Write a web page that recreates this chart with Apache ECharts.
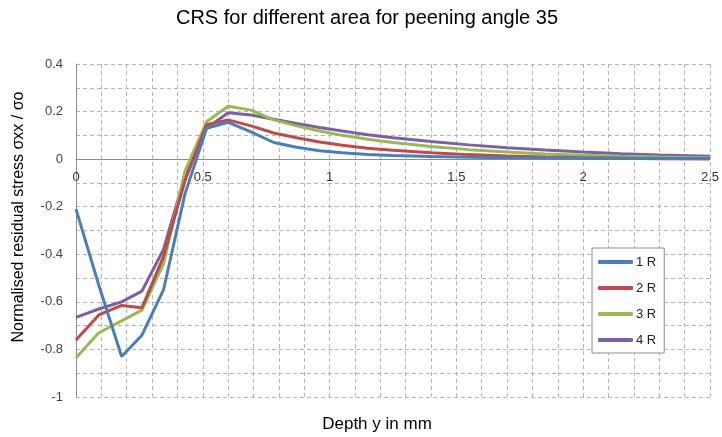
<!DOCTYPE html>
<html><head><meta charset="utf-8">
<script src="https://cdn.jsdelivr.net/npm/echarts@6/dist/echarts.min.js"></script>
<style>html,body{margin:0;padding:0;background:#fff}#c{width:722px;height:437px}</style>
</head><body><div id="c"></div>
<script>
var depth = [0, 0.09, 0.18, 0.26, 0.345, 0.43, 0.515, 0.6, 0.69, 0.78, 0.87, 0.96, 1.05, 1.15, 1.25, 1.4, 1.55, 1.7, 1.85, 2.0, 2.15, 2.3, 2.5];
var r1 = [-0.21, -0.53, -0.83, -0.74, -0.55, -0.145, 0.13, 0.155, 0.115, 0.07, 0.05, 0.035, 0.027, 0.02, 0.015, 0.011, 0.008, 0.006, 0.005, 0.004, 0.004, 0.003, 0.003];
var r2 = [-0.76, -0.655, -0.615, -0.625, -0.41, -0.09, 0.145, 0.165, 0.14, 0.11, 0.09, 0.072, 0.058, 0.046, 0.037, 0.027, 0.019, 0.013, 0.009, 0.006, 0.004, 0.002, 0.001];
var r3 = [-0.835, -0.73, -0.68, -0.635, -0.44, -0.05, 0.157, 0.222, 0.206, 0.165, 0.14, 0.118, 0.1, 0.084, 0.07, 0.053, 0.04, 0.03, 0.022, 0.016, 0.012, 0.009, 0.006];
var r4 = [-0.665, -0.63, -0.6, -0.555, -0.38, -0.07, 0.13, 0.195, 0.186, 0.168, 0.15, 0.133, 0.118, 0.103, 0.09, 0.074, 0.06, 0.048, 0.038, 0.03, 0.023, 0.017, 0.012];
var seriesNames = ['1 R', '2 R', '3 R', '4 R'];
var colors = ['#4A7EBB', '#BE4B48', '#98B954', '#7D60A0'];
var xTickLabels = ['0', '0.5', '1', '1.5', '2', '2.5'];
var yTickLabels = ['0.4', '0.2', '0', '-0.2', '-0.4', '-0.6', '-0.8', '-1'];
var titleText = 'CRS for different area for peening angle 35';
var xTitle = 'Depth y in mm';
var yTitle = 'Normalised residual stress σxx / σo';

function pairs(ys){ return depth.map(function(x,i){ return [x, ys[i]]; }); }
var allData = [r1, r2, r3, r4];
var FONT = 'Liberation Sans, Arial, sans-serif';

var chart = echarts.init(document.getElementById('c'), null, {renderer:'canvas'});
chart.setOption({
  animation: false,
  color: colors,
  graphic: [
    {type: 'text', left: null, x: 367, y: 18, style: {text: titleText, fontFamily: FONT, fontSize: 20, fill: '#000', textAlign: 'center', textVerticalAlign: 'middle'}},
    {type: 'text', x: 377, y: 424, style: {text: xTitle, fontFamily: FONT, fontSize: 17, fill: '#000', textAlign: 'center', textVerticalAlign: 'middle'}},
    {type: 'text', x: 19, y: 217, rotation: Math.PI/2, style: {text: yTitle, fontFamily: FONT, fontSize: 16, fill: '#000', textAlign: 'center', textVerticalAlign: 'middle'}}
  ],
  grid: {left: 76, right: 10, top: 64, bottom: 40, containLabel: false},
  legend: {
    orient: 'vertical', left: 592, top: 248, width: 60,
    padding: [6, 6, 5, 6], itemGap: 10, itemWidth: 35, itemHeight: 4,
    icon: 'roundRect',
    borderColor: '#8c8c8c', borderWidth: 1, backgroundColor: '#fff',
    textStyle: {fontFamily: FONT, fontSize: 13, color: '#222', lineHeight: 16, padding: [0,2,0,-2]},
    data: seriesNames
  },
  xAxis: {
    type: 'value', min: 0, max: 2.5, interval: 0.1,
    axisLine: {onZero: true, lineStyle: {color: '#8c8c8c', width: 1}},
    axisTick: {show: false},
    axisLabel: {
      fontFamily: FONT, fontSize: 13, color: '#333', margin: -226,
      formatter: function(v){ var s = String(Math.round(v*10)/10); return xTickLabels.indexOf(s) >= 0 && Math.abs(Math.round(v*2) - v*2) < 1e-6 ? s : ''; }
    },
    splitLine: {show: true, lineStyle: {color: '#b4b4b4', type: [4, 3], width: 1}}
  },
  yAxis: {
    type: 'value', min: -1, max: 0.4, interval: 0.1,
    axisLine: {show: true, lineStyle: {color: '#8c8c8c', width: 1}},
    axisTick: {show: false},
    axisLabel: {
      fontFamily: FONT, fontSize: 13, color: '#444', margin: 13,
      formatter: function(v){ var s = String(Math.round(v*10)/10); return (Math.abs(Math.round(v*5) - v*5) < 1e-6 && yTickLabels.indexOf(s) >= 0) ? s : ''; }
    },
    splitLine: {show: true, lineStyle: {color: '#b4b4b4', type: [4, 3], width: 1}}
  },
  series: allData.map(function(d, i){
    return {
      name: seriesNames[i], type: 'line', data: pairs(d), showSymbol: false, symbol: 'none',
      smooth: false, lineStyle: {width: 3, color: colors[i]}, itemStyle: {color: colors[i]}, z: 2 + (3 - i)
    };
  })
});
</script></body></html>
